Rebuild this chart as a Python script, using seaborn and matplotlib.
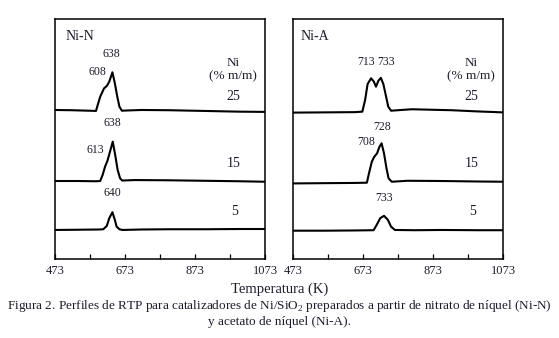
import matplotlib
matplotlib.use("Agg")
import matplotlib.pyplot as plt
import numpy as np
import pandas as pd
import seaborn as sns

sns.set_theme(style="white")
plt.rcParams["font.family"] = ["Liberation Serif", "DejaVu Serif"]
plt.rcParams["mathtext.fontset"] = "custom"
plt.rcParams["mathtext.rm"] = "Liberation Serif"

# --- data (temperature in K, signal in arbitrary units) ---
nn25_T = [473, 520, 570, 590, 602, 613, 621, 628, 637, 644, 651, 657, 664, 680, 720, 800, 900, 1000, 1073]
nn25_y = [0.621, 0.620, 0.618, 0.617, 0.676, 0.711, 0.721, 0.739, 0.778, 0.732, 0.676, 0.635, 0.618, 0.619, 0.621, 0.620, 0.617, 0.614, 0.613]

nn15_T = [473, 540, 590, 602, 609, 616, 623, 630, 638, 645, 652, 659, 665, 700, 800, 900, 1000, 1073]
nn15_y = [0.325, 0.325, 0.324, 0.325, 0.350, 0.385, 0.410, 0.447, 0.489, 0.433, 0.371, 0.336, 0.327, 0.329, 0.328, 0.326, 0.324, 0.322]

nn5_T = [473, 540, 600, 611, 621, 628, 637, 644, 649, 657, 666, 720, 800, 900, 1000, 1073]
nn5_y = [0.121, 0.122, 0.123, 0.124, 0.138, 0.170, 0.195, 0.163, 0.135, 0.124, 0.121, 0.123, 0.124, 0.124, 0.125, 0.125]

na25_T = [473, 560, 650, 671, 679, 686, 696, 704, 710, 717, 724, 731, 739, 745, 753, 812, 926, 1000, 1073]
na25_y = [0.610, 0.611, 0.612, 0.614, 0.663, 0.729, 0.753, 0.739, 0.718, 0.743, 0.755, 0.729, 0.676, 0.635, 0.618, 0.624, 0.620, 0.615, 0.611]

na15_T = [473, 560, 650, 684, 690, 698, 705, 713, 720, 726, 733, 740, 746, 755, 800, 900, 1000, 1073]
na15_y = [0.315, 0.316, 0.317, 0.318, 0.357, 0.405, 0.426, 0.440, 0.468, 0.482, 0.440, 0.378, 0.336, 0.322, 0.326, 0.325, 0.323, 0.322]

na5_T = [473, 560, 650, 703, 712, 722, 733, 744, 753, 764, 820, 900, 1000, 1073]
na5_y = [0.118, 0.118, 0.119, 0.120, 0.142, 0.170, 0.180, 0.163, 0.135, 0.121, 0.120, 0.121, 0.120, 0.120]

loadings = ["25", "15", "5"]
ticks_major = [473, 673, 873, 1073]
ticks_minor = [573, 773, 973]

panels = [
    ("Ni-N", [(nn25_T, nn25_y), (nn15_T, nn15_y), (nn5_T, nn5_y)],
     [("638", 635, 0.854), ("608", 594, 0.778), ("638", 638, 0.565),
      ("613", 587, 0.454), ("640", 638, 0.274)]),
    ("Ni-A", [(na25_T, na25_y), (na15_T, na15_y), (na5_T, na5_y)],
     [("713", 681, 0.820), ("733", 739, 0.820), ("728", 728, 0.551),
      ("708", 683, 0.489), ("733", 734, 0.253)]),
]

ink = "#1c1c2c"
fig = plt.figure(figsize=(5.59, 3.38), dpi=100)
axes = [fig.add_axes([0.0984, 0.2337, 0.3757, 0.710]),
        fig.add_axes([0.5242, 0.2337, 0.3757, 0.710])]

for ax, (name, curves, peaks) in zip(axes, panels):
    for T, y in curves:
        df = pd.DataFrame({"T": T, "signal": y})
        sns.lineplot(data=df, x="T", y="signal", ax=ax, color="black",
                     lw=1.5, sort=False, estimator=None)
    ax.set_xlim(473, 1073)
    ax.set_ylim(0, 1)
    ax.set_xticks(ticks_major)
    ax.set_xticklabels([str(t) for t in ticks_major])
    ax.set_xticks(ticks_minor, minor=True)
    ax.set_yticks([])
    ax.tick_params(axis="x", which="both", direction="in", length=3.5, width=0.9,
                   bottom=True, top=False, colors="black", labelcolor=ink,
                   labelsize=9, pad=4)
    ax.set_xlabel("")
    ax.set_ylabel("")
    for s in ax.spines.values():
        s.set_color("black")
        s.set_linewidth(1.1)

    ax.text(0.05 if name == "Ni-N" else 0.035, 0.929, name, transform=ax.transAxes,
            fontsize=10, color=ink, va="center", ha="left")
    for lab, x, y in peaks:
        ax.text(x, y, lab, fontsize=8.5, color=ink, ha="center", va="center")
    ax.text(981, 0.818, "Ni", fontsize=9.5, color=ink, ha="center", va="center")
    ax.text(981, 0.760, "(% m/m)", fontsize=9.5, color=ink, ha="center", va="center")
    for lab, yv in zip(loadings, [0.676, 0.396, 0.197]):
        ax.text(983 if lab != "5" else 986, yv, lab, fontsize=10, color=ink,
                ha="center", va="center")

fig.text(0.5, 1 - 289 / 338, "Temperatura (K)", fontsize=10.5, color=ink,
         ha="center", va="center")
fig.text(0.5, 1 - 306 / 338,
         "Figura 2. Perfiles de RTP para catalizadores de Ni/SiO$_2$ preparados a partir de nitrato de níquel (Ni-N)",
         fontsize=9.5, color=ink, ha="center", va="center")
fig.text(0.5, 1 - 322 / 338, "y acetato de níquel (Ni-A).",
         fontsize=9.5, color=ink, ha="center", va="center")

fig.savefig("out.png", dpi=100, facecolor="white")
